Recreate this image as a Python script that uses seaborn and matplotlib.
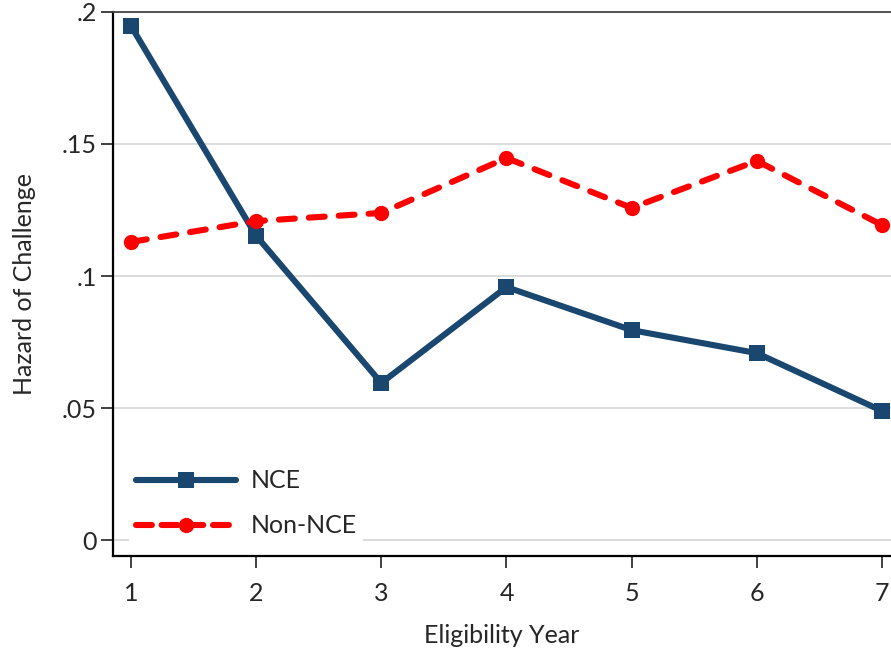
import pandas as pd
import matplotlib.pyplot as plt
import seaborn as sns
from matplotlib.lines import Line2D

# values
years = [1, 2, 3, 4, 5, 6, 7]
nce = [0.1947, 0.1152, 0.0595, 0.0958, 0.0795, 0.0708, 0.0489]
non_nce = [0.1129, 0.1208, 0.1239, 0.1447, 0.1258, 0.1436, 0.1193]
y_ticks = [0, 0.05, 0.1, 0.15, 0.2]
y_tick_labels = ['0', '.05', '.1', '.15', '.2']

navy = '#1a476f'
red = '#ff0000'

sns.set_style('white')
plt.rcParams['font.family'] = ['Lato', 'DejaVu Sans']

df = pd.DataFrame({'year': years, 'NCE': nce, 'Non-NCE': non_nce})

fig = plt.figure(figsize=(8.91, 6.55), dpi=100)
ax = fig.add_axes([0.1268, 0.1511, 0.8732, 0.8306])

sns.lineplot(data=df, x='year', y='NCE', ax=ax, color=navy, lw=4.4,
             marker='s', markersize=11, markeredgewidth=0, zorder=3,
             solid_capstyle='round')
sns.lineplot(data=df, x='year', y='Non-NCE', ax=ax, color=red, lw=4.4,
             marker='o', markersize=11, markeredgewidth=0, zorder=3,
             dashes=(2.6, 2.3), dash_capstyle='round')

ax.set_xlim(0.856, 7.072)
ax.set_ylim(-0.00606, 0.2)
ax.set_xticks(years)
ax.set_yticks(y_ticks)
ax.set_yticklabels(y_tick_labels)
ax.yaxis.grid(True, color='#d9d9d9', lw=1.3)
ax.set_axisbelow(True)

for s in ['left', 'bottom']:
    ax.spines[s].set_color('black')
    ax.spines[s].set_linewidth(1.6)
ax.spines['top'].set_visible(True)
ax.spines['top'].set_color('#444444')
ax.spines['top'].set_linewidth(1.3)
ax.spines['right'].set_visible(False)

ax.tick_params(axis='both', direction='out', length=8.5, width=1.3,
               color='#333333', labelsize=18, left=True, bottom=True)
ax.tick_params(axis='x', pad=10)
ax.tick_params(axis='y', pad=3)

ax.set_xlabel('Eligibility Year', fontsize=18, labelpad=14)
ax.set_ylabel('Hazard of Challenge', fontsize=18, labelpad=19)

handles = [
    Line2D([], [], color=navy, lw=4.4, marker='s', markersize=11,
           markeredgewidth=0, solid_capstyle='round'),
    Line2D([], [], color=red, lw=4.4, marker='o', markersize=11,
           markeredgewidth=0, dashes=(2.6, 1.6), dash_capstyle='round'),
]
leg = ax.legend(handles, ['NCE', 'Non-NCE'], loc='lower left',
                bbox_to_anchor=(0.005, 0.0), frameon=True, facecolor='white',
                edgecolor='none', framealpha=1, fontsize=18, handlelength=4.0,
                handletextpad=0.6, labelspacing=0.88, numpoints=1,
                borderpad=0.25)

fig.savefig('out.png', dpi=100)
